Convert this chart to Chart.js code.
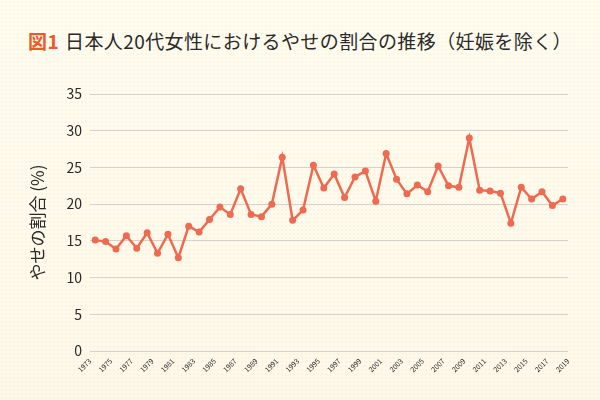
<!DOCTYPE html>
<html lang="ja">
<head>
<meta charset="utf-8">
<script src="https://cdn.jsdelivr.net/npm/chart.js@4/dist/chart.umd.min.js"></script>
<style>
  html, body { margin: 0; padding: 0; }
  body {
    width: 600px; height: 400px; overflow: hidden; position: relative;
    background:
      radial-gradient(circle, rgba(238, 214, 170, 0.18) 1px, transparent 1.3px) 0 0 / 4px 4px,
      linear-gradient(#fffdf0, #fef8ea);
    font-family: "Noto Sans CJK JP", "Noto Sans", sans-serif;
  }
  #title {
    position: absolute; left: 0; top: 28px; width: 600px; text-align: center;
    font-size: 19px; line-height: 26px; color: #2a2a2a; white-space: nowrap; letter-spacing: 0.4px;
  }
  #title .fig { color: #ea5a2a; font-weight: bold; margin-right: 6px; }
  #wrap { position: absolute; left: 0; top: 0; width: 600px; height: 400px; }
</style>
</head>
<body>
<div id="title"><span class="fig">図1</span>日本人20代女性におけるやせの割合の推移（妊娠を除く）</div>
<div id="wrap"><canvas id="chart" width="600" height="400"></canvas></div>
<script>
(function () {
    "use strict";

    const years = [1974, 1975, 1976, 1977, 1978, 1979, 1980, 1981, 1982, 1983, 1984, 1985, 1986, 1987, 1988, 1989,
        1990, 1991, 1992, 1993, 1994, 1995, 1996, 1997, 1998, 1999, 2000, 2001, 2002, 2003, 2004, 2005, 2006,
        2007, 2008, 2009, 2010, 2011, 2012, 2013, 2014, 2015, 2016, 2017, 2018, 2019];
    const yase = [15.1, 14.9, 13.9, 15.7, 14.0, 16.1, 13.3, 15.9, 12.7, 17.0, 16.2, 17.9, 19.6, 18.6, 22.1, 18.6,
        18.3, 20.0, 26.4, 17.8, 19.2, 25.3, 22.2, 24.1, 20.9, 23.7, 24.5, 20.4, 26.9, 23.4, 21.4, 22.6, 21.7,
        25.2, 22.5, 22.3, 29.0, 21.9, 21.8, 21.5, 17.4, 22.3, 20.7, 21.7, 19.8, 20.7];
    const tickLabels = ["1973", "1975", "1977", "1979", "1981", "1983", "1985", "1987", "1989", "1991", "1993", "1995",
        "1997", "1999", "2001", "2003", "2005", "2007", "2009", "2011", "2013", "2015", "2017", "2019"];

    const lineColor = "#ee6a50";
    const textColor = "#2a2a2a";
    const font = "'Noto Sans CJK JP', 'Noto Sans', sans-serif";

    new Chart(document.getElementById("chart"), {
        type: "line",
        data: {
            datasets: [{
                data: years.map((y, i) => ({ x: y, y: yase[i] })),
                xAxisID: "x",
                borderColor: lineColor,
                backgroundColor: lineColor,
                borderWidth: 2.5,
                pointRadius: 3.5,
                pointBorderWidth: 0,
                tension: 0,
            }],
        },
        options: {
            responsive: false,
            animation: false,
            devicePixelRatio: 1,
            layout: { padding: { left: 27, right: 32, top: 94, bottom: 19 } },
            plugins: { legend: { display: false }, tooltip: { enabled: false } },
            scales: {
                x: { type: "linear", min: 1973.5, max: 2019.5, display: false },
                x2: {
                    type: "category",
                    position: "bottom",
                    labels: tickLabels,
                    offset: false,
                    grid: { display: false },
                    border: { display: false },
                    ticks: { color: textColor, font: { family: font, size: 7 }, minRotation: 45, maxRotation: 45, autoSkip: false, padding: -2 },
                    afterFit: (s) => { s.height = 30; },
                },
                y: {
                    min: 0, max: 35,
                    ticks: { stepSize: 5, color: textColor, font: { family: font, size: 14 }, padding: 8 },
                    grid: { color: "#d4d2cc", lineWidth: 1, drawTicks: false },
                    border: { display: false },
                    title: { display: true, text: "やせの割合 (%)", color: textColor, font: { family: font, size: 17 }, padding: 0 },
                    afterFit: (s) => { s.width = 63; },
                },
            },
        },
    });
})();
</script>
</body>
</html>
